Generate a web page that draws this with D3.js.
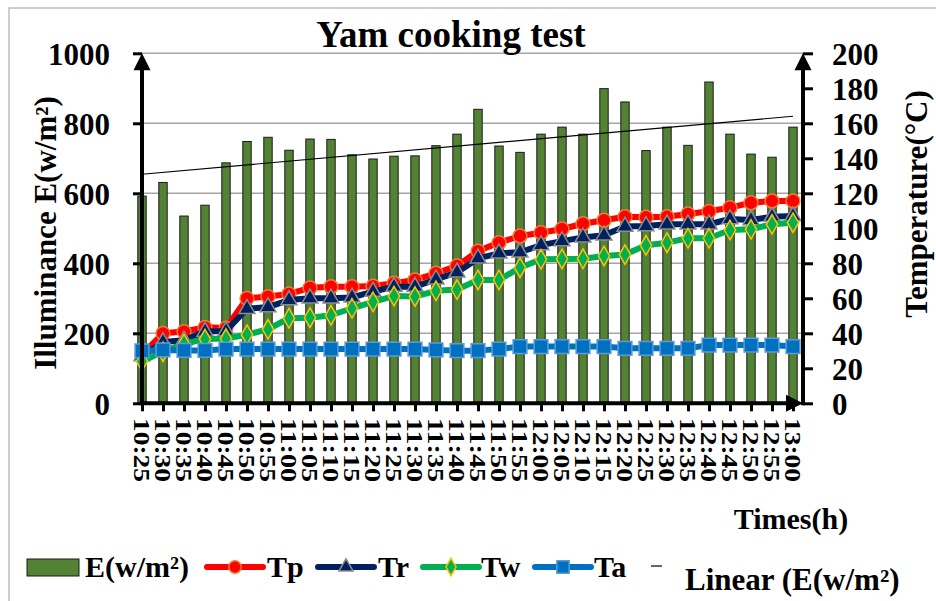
<!DOCTYPE html>
<html>
<head>
<meta charset="utf-8">
<script src="https://cdn.jsdelivr.net/npm/d3@7"></script>
<style>
  body { margin: 0; background: #fff; }
  svg { display: block; }
  svg text { font-family: "Liberation Serif", Tinos, "Times New Roman", "DejaVu Serif", serif !important; font-weight: bold; fill: #000; }
</style>
</head>
<body>
<svg id="chart" width="936" height="601"></svg>
<script>
// times of the test, every 5 min
const times = ["10:25","10:30","10:35","10:40","10:45","10:50","10:55","11:00","11:05","11:10",
  "11:15","11:20","11:25","11:30","11:35","11:40","11:45","11:50","11:55","12:00",
  "12:05","12:10","12:15","12:20","12:25","12:30","12:35","12:40","12:45","12:50","12:55","13:00"];

// illuminance E (w/m2), bars
const E = [592,631,535,566,687,748,760,723,755,754,710,698,706,707,736,769,840,735,717,769,
  789,769,899,861,722,789,737,918,769,712,703,789];

// temperatures (°C)
const Tp = [28,40,41,43.4,43,60,61,62.5,66,66.6,66.6,67,68.6,70.5,74.3,78.5,87,91.8,95.6,97.5,
  99.6,102.6,104.6,106.6,106.3,106.6,108.2,109.7,111.8,114.6,115.6,115.6];
const Tr = [27,35,36,41,41.3,54,55,59,60,60,60.5,63.8,66.6,66.6,70.8,74.8,82.8,85.7,86.3,90.4,
  92.7,94.8,96,101,101.3,102.3,102.3,102.3,105.3,104.7,106.6,107];
const Tw = [24,29.5,34,36.7,37,39.2,42.3,48.6,48.9,50.3,54.3,58,61.3,61,64.3,65,70.5,70.5,77.5,82.3,
  82.5,82.6,84.2,85,90.3,91.8,94.3,94.3,99,99.4,102.3,103.2];
const Ta = [30,30.5,30.2,30.2,31,31,31,31,31,31,31,31,31,31,30.5,30.1,30.1,31,32.4,32.4,
  32.4,32.4,32.4,31.4,31.4,31.4,31.4,33.3,33.3,33.3,33.3,32.4];

const leftTicks = [0,200,400,600,800,1000];
const rightTicks = [0,20,40,60,80,100,120,140,160,180,200];

const serif = '"Liberation Serif", Tinos, "Times New Roman", serif';
const svg = d3.select("#chart").attr("font-family", serif);

// outer chart border
svg.append("rect").attr("x",9).attr("y",8).attr("width",940).attr("height",610)
  .attr("fill","none").attr("stroke","#bfbfbf").attr("stroke-width",1.5);

const x = d3.scalePoint().domain(times).range([142, 793]);
const yL = d3.scaleLinear().domain([0,1000]).range([403.3, 53.3]);
const yR = d3.scaleLinear().domain([0,200]).range([403.3, 53.3]);
const axisLeftX = 142, axisRightX = 803;

// gridlines
svg.append("g").selectAll("line").data(leftTicks.filter(d => d > 0)).join("line")
  .attr("x1", axisLeftX).attr("x2", axisRightX)
  .attr("y1", d => yL(d)).attr("y2", d => yL(d))
  .attr("stroke","#a6a6a6").attr("stroke-width",1.5);

// bars
const barW = 8.4;
svg.append("g").selectAll("rect").data(E).join("rect")
  .attr("x", (d,i) => x(times[i]) - barW/2)
  .attr("y", d => yL(d))
  .attr("width", barW)
  .attr("height", d => yL(0) - yL(d))
  .attr("fill","#548235").attr("stroke","#1a1a1a").attr("stroke-width",1);

// linear trend of E
const idx = E.map((d,i) => i);
const mx = d3.mean(idx), my = d3.mean(E);
const slope = d3.sum(idx, i => (i-mx)*(E[i]-my)) / d3.sum(idx, i => (i-mx)*(i-mx));
const icpt = my - slope*mx;
svg.append("line")
  .attr("x1", x(times[0])).attr("y1", yL(icpt))
  .attr("x2", x(times[times.length-1])).attr("y2", yL(icpt + slope*(times.length-1)))
  .attr("stroke","#000").attr("stroke-width",1.2);

// temperature series
const series = [
  {name:"Tp", values:Tp, color:"#FF0000", sym:d3.symbolCircle, size:150, mfill:"#FF0000", mstroke:"#ED7D31"},
  {name:"Tr", values:Tr, color:"#002060", sym:d3.symbolTriangle, size:110, mfill:"#002060", mstroke:"#8c8c8c"},
  {name:"Tw", values:Tw, color:"#00B050", sym:d3.symbolDiamond, size:110, mfill:"#00B050", mstroke:"#FFC000"},
  {name:"Ta", values:Ta, color:"#0070C0", sym:d3.symbolSquare, size:190, mfill:"#0070C0", mstroke:"#5B9BD5"}
];
const line = d3.line().x((d,i) => x(times[i])).y(d => yR(d));

series.forEach(s => {
  const g = svg.append("g");
  g.append("path").datum(s.values).attr("d", line)
    .attr("fill","none").attr("stroke", s.color).attr("stroke-width",6)
    .attr("stroke-linejoin","round");
  g.selectAll("path.m").data(s.values).join("path").attr("class","m")
    .attr("transform", (d,i) => `translate(${x(times[i])},${yR(d)})`)
    .attr("d", d3.symbol(s.sym, s.size))
    .attr("fill", s.mfill).attr("stroke", s.mstroke).attr("stroke-width",1.5);
});

// axes
const gL = svg.append("g").attr("transform",`translate(${axisLeftX},0)`)
  .call(d3.axisLeft(yL).tickValues(leftTicks).tickFormat(d3.format("d"))
    .tickSize(9).tickSizeOuter(0).tickPadding(23));
const gR = svg.append("g").attr("transform",`translate(${axisRightX},0)`)
  .call(d3.axisRight(yR).tickValues(rightTicks).tickFormat(d3.format("d"))
    .tickSize(10).tickSizeOuter(0).tickPadding(19));
const gB = svg.append("g").attr("transform",`translate(0,${yL(0)})`)
  .call(d3.axisBottom(x).tickSize(8).tickSizeOuter(0).tickFormat(""));

[gL, gR, gB].forEach(g => {
  g.attr("font-family", serif);
  g.select(".domain").remove();
  g.selectAll(".tick line").attr("stroke","#000").attr("stroke-width",3);
  g.selectAll(".tick text").style("font-size","31px").attr("fill","#000");
});
gL.selectAll(".tick text").attr("dy","0.36em");
gR.selectAll(".tick text").attr("dy","0.36em");

// axis lines with arrows
svg.append("line").attr("x1",axisLeftX).attr("x2",axisLeftX).attr("y1",yL(0)+2).attr("y2",yL(1000)+14)
  .attr("stroke","#000").attr("stroke-width",4);
svg.append("line").attr("x1",axisRightX).attr("x2",axisRightX).attr("y1",yL(0)+2).attr("y2",yL(1000)+14)
  .attr("stroke","#000").attr("stroke-width",4);
svg.append("line").attr("x1",axisLeftX).attr("x2",axisRightX-12).attr("y1",yL(0)).attr("y2",yL(0))
  .attr("stroke","#000").attr("stroke-width",4);
const arrow = (tx, ty, rot) => svg.append("path")
  .attr("d","M0,0 L-8.5,17 L8.5,17 Z").attr("fill","#000")
  .attr("transform",`translate(${tx},${ty}) rotate(${rot})`);
arrow(axisLeftX, yL(1000), 0);
arrow(axisRightX, yL(1000), 0);
arrow(axisRightX, yL(0), 90);

// rotated time labels
svg.append("g").selectAll("text").data(times).join("text")
  .attr("transform", d => `translate(${x(d)},418) rotate(90)`)
  .attr("dy","0.34em")
  .attr("textLength",64).attr("lengthAdjust","spacingAndGlyphs")
  .style("font-size","23px")
  .text(d => d);

// titles
svg.append("text").attr("x",451).attr("y",47).attr("text-anchor","middle")
  .style("font-size","37px").text("Yam cooking test");
svg.append("text").attr("transform","translate(56,233) rotate(-90)").attr("text-anchor","middle")
  .style("font-size","31px").text("Illuminance E(w/m²)");
svg.append("text").attr("transform","translate(927,204) rotate(-90)").attr("text-anchor","middle")
  .style("font-size","31px").text("Temperature(°C)");
svg.append("text").attr("x",791).attr("y",529).attr("text-anchor","middle")
  .style("font-size","30px").text("Times(h)");

// legend
const lg = svg.append("g");
lg.append("rect").attr("x",27).attr("y",559).attr("width",52).attr("height",17)
  .attr("fill","#548235").attr("stroke","#1a1a1a").attr("stroke-width",1);
lg.append("text").attr("x",85).attr("y",577).style("font-size","30px").text("E(w/m²)");
const legPos = [{x:207, tx:267}, {x:318, tx:378}, {x:423, tx:481}, {x:535, tx:594}];
series.forEach((s,i) => {
  const p = legPos[i];
  lg.append("line").attr("x1",p.x).attr("x2",p.x+56).attr("y1",567).attr("y2",567)
    .attr("stroke",s.color).attr("stroke-width",6).attr("stroke-linecap","round");
  lg.append("path").attr("transform",`translate(${p.x+28},567)`)
    .attr("d", d3.symbol(s.sym, s.size*0.8))
    .attr("fill",s.mfill).attr("stroke",s.mstroke).attr("stroke-width",1.5);
  lg.append("text").attr("x",p.tx).attr("y",577).style("font-size","30px").text(s.name);
});
lg.append("line").attr("x1",651).attr("x2",662).attr("y1",566).attr("y2",566)
  .attr("stroke","#000").attr("stroke-width",1.2);
lg.append("text").attr("x",685).attr("y",590).style("font-size","31px").text("Linear (E(w/m²)");
</script>
</body>
</html>
